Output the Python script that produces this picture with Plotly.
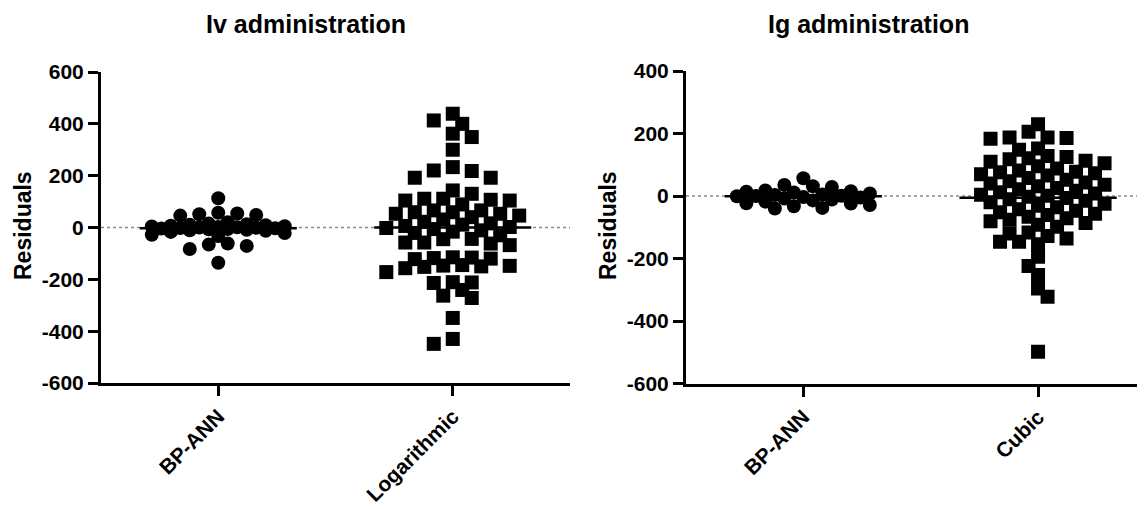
import math
import plotly.graph_objects as go

# ---------------- data ----------------
panel_titles = ["Iv administration", "Ig administration"]
iv_categories = ["BP-ANN", "Logarithmic"]
ig_categories = ["BP-ANN", "Cubic"]
y_title = "Residuals"

iv_bpann = [113, 57, 54, 51, 48, 46, 20, 15, 13, 11, 9, 7, 5, 4, 2, 1, 0, -1, -2, -3,
            -4, -6, -7, -9, -11, -13, -17, -21, -28, -33, -62, -66, -71, -83, -136]
iv_log = [439, 413, 400, 362, 349, 300, 233, 220, 218, 192, 192, 143, 130,
          111, 111, 107, 104, 104, 89,
          66, 66, 59, 59, 53, 53, 46, 40, 31,
          22, 16, 11, 6, 2, -2, -6, -11, -16, -21,
          -30, -44, -45, -58, -58, -62, -68,
          -115, -116, -118, -120, -122,
          -145, -147, -148, -150, -152, -157, -172,
          -211, -212, -214, -241, -263, -272, -349, -430, -449]
ig_bpann = [57, 35, 31, 29, 18, 15, 14, 11, 8, 5, 3, 1, 0, -1, -3, -5, -8, -11,
            -14, -18, -23, -24, -29, -33, -38, -40]
ig_cubic = [230, 206, 187, 187, 186, 183, 152, 148,
            128, 125, 121, 118, 113, 110, 105,
            95, 88, 82, 78, 76, 73, 70, 66,
            58, 52, 47, 43, 40, 36, 31, 26, 22,
            17, 12, 8, 4, 1, -2, -6, -10, -15,
            -20, -25, -31, -36, -42, -47, -52, -57, -61,
            -66, -71, -76, -81, -86, -92, -98,
            -117, -120, -128, -136, -146, -146, -154,
            -194, -224, -253, -296, -322, -498]

iv_yticks = [-600, -400, -200, 0, 200, 400, 600]
ig_yticks = [-600, -400, -200, 0, 200, 400]
iv_yrange = [-600, 600]
ig_yrange = [-600, 400]

# ---------------- geometry (window pixels) ----------------
W, H = 1145, 509
OFF = 8                      # default page margin of the html body
FW, FH = W - OFF, H - OFF    # figure size


def fx(px):
    return (px - OFF) / FW


def fy(py):
    return 1 - (py - OFF) / FH


L_X0, L_X1, L_Y0, L_Y1 = 101, 570, 72, 383
R_X0, R_X1, R_Y0, R_Y1 = 686, 1145, 71, 383.5
PX_PER_CAT = 234.7
MEAN_HALF = 0.335
MSIZE = 14
FONT = "Liberation Sans, Arial, sans-serif"


def swarm(values, center, ppu_y, ppc, dmin=12.0, step=9.5, max_steps=7):
    order = sorted(range(len(values)), key=lambda i: -values[i])
    placed = []
    xs = [0.0] * len(values)
    flip = 1
    for i in order:
        ypx = values[i] * ppu_y
        cands = [0.0]
        for k in range(1, max_steps + 1):
            cands += [flip * k * step, -flip * k * step]
        best, bestd = 0.0, -1.0
        for c in cands:
            md = min((math.hypot(c - px, ypx - py) for px, py in placed), default=1e9)
            if md >= dmin:
                best = c
                break
            if md > bestd:
                bestd, best = md, c
        placed.append((best, ypx))
        xs[i] = center + best / ppc
        flip = -flip
    return xs


fig = go.Figure()

panels = [
    dict(groups=[iv_bpann, iv_log], xa="x", ya="y",
         ppu=(L_Y1 - L_Y0) / (iv_yrange[1] - iv_yrange[0])),
    dict(groups=[ig_bpann, ig_cubic], xa="x2", ya="y2",
         ppu=(R_Y1 - R_Y0) / (ig_yrange[1] - ig_yrange[0])),
]
symbols = ["circle", "square"]

for p in panels:
    for gi, vals in enumerate(p["groups"]):
        xs = swarm(vals, gi, p["ppu"], PX_PER_CAT)
        fig.add_trace(go.Scatter(
            x=xs, y=vals, mode="markers", xaxis=p["xa"], yaxis=p["ya"],
            marker=dict(symbol=symbols[gi], size=MSIZE, color="black",
                        line=dict(width=0)),
            showlegend=False, hoverinfo="y"))
    for gi, vals in enumerate(p["groups"]):
        m = sum(vals) / len(vals)
        fig.add_trace(go.Scatter(
            x=[gi - MEAN_HALF, gi + MEAN_HALF], y=[m, m], mode="lines",
            xaxis=p["xa"], yaxis=p["ya"], line=dict(color="black", width=2.5),
            showlegend=False, hoverinfo="skip"))

axis_common = dict(showline=True, linewidth=3, linecolor="black", ticks="outside",
                   ticklen=10, tickwidth=3, tickcolor="black", showgrid=False,
                   zeroline=False, automargin=False, fixedrange=True,
                   tickfont=dict(family=FONT, size=21, color="black", weight="bold"))


def labels(vals):
    return [str(v) for v in vals]


fig.update_layout(
    width=FW, height=FH, margin=dict(l=0, r=0, t=0, b=0),
    paper_bgcolor="white", plot_bgcolor="white", showlegend=False,
    xaxis=dict(domain=[fx(L_X0), fx(L_X1)], range=[-0.5, 1.5], tickmode="array",
               tickvals=[0, 1], ticktext=iv_categories, tickangle=-45,
               anchor="y", **axis_common),
    yaxis=dict(domain=[fy(L_Y1), fy(L_Y0)], range=iv_yrange, tickmode="array",
               tickvals=iv_yticks, ticktext=labels(iv_yticks), anchor="x", **axis_common),
    xaxis2=dict(domain=[fx(R_X0), min(1.0, fx(R_X1))],
                range=[-0.5, -0.5 + (R_X1 - R_X0) / PX_PER_CAT], tickmode="array",
                tickvals=[0, 1], ticktext=ig_categories, tickangle=-45,
                anchor="y2", **axis_common),
    yaxis2=dict(domain=[fy(R_Y1), fy(R_Y0)], range=ig_yrange, tickmode="array",
                tickvals=ig_yticks, ticktext=labels(ig_yticks), anchor="x2", **axis_common),
)

# dotted zero reference lines
for xr, yr in [("x domain", "y"), ("x2 domain", "y2")]:
    fig.add_shape(type="line", xref=xr, yref=yr, x0=0, x1=1, y0=0, y1=0,
                  line=dict(color="#8a8a8a", width=1.5, dash="dot"), layer="below")

# titles
for txt, cx in zip(panel_titles, [306, 868]):
    fig.add_annotation(text=txt, xref="paper", yref="paper", x=fx(cx), y=fy(24),
                       xanchor="center", yanchor="middle", showarrow=False,
                       font=dict(family=FONT, size=25, color="black", weight="bold"))
for cx in [23, 608]:
    fig.add_annotation(text=y_title, xref="paper", yref="paper", x=fx(cx),
                       y=fy(226), xanchor="center", yanchor="middle",
                       textangle=-90, showarrow=False,
                       font=dict(family=FONT, size=23, color="black", weight="bold"))

fig.write_html("out.html")
